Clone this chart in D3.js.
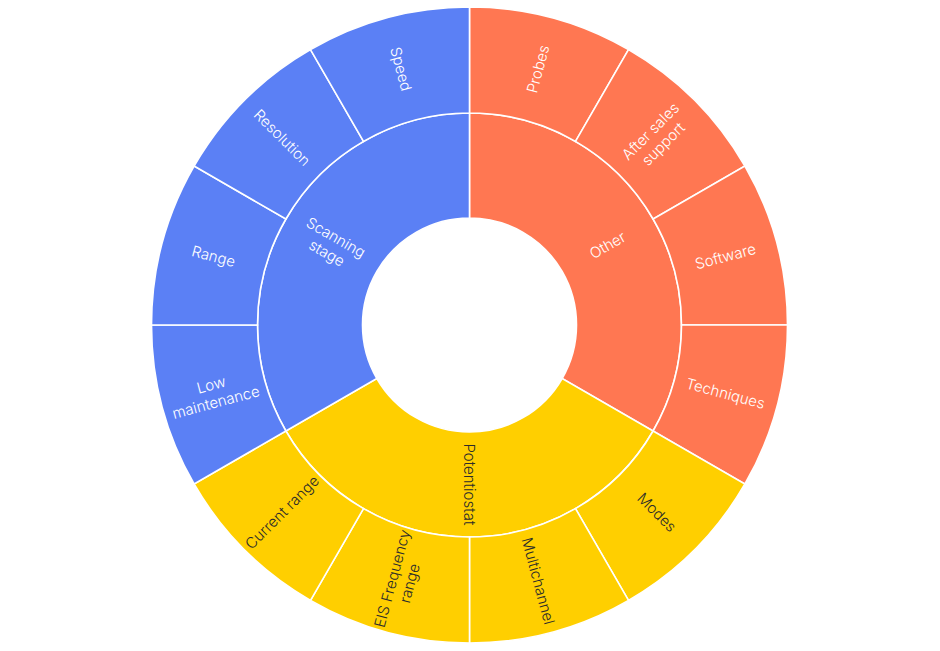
<!DOCTYPE html>
<html><head><meta charset="utf-8">
<script src="https://cdn.jsdelivr.net/npm/d3@7"></script>
<style>html,body{margin:0;padding:0;background:#fff;}svg{display:block;}</style>
</head><body>
<svg id="c" width="940" height="651"></svg>
<script>
const categories = ["Other", "Potentiostat", "Scanning stage"];
const categoryLabels = [["Other"], ["Potentiostat"], ["Scanning", "stage"]];
const categoryColors = ["#FF7752", "#FFCF00", "#5B80F5"];
const textColors = ["#ffffff", "#2b2b2b", "#ffffff"];
const children = [
  ["Probes", "After sales support", "Software", "Techniques"],
  ["Modes", "Multichannel", "EIS Frequency range", "Current range"],
  ["Low maintenance", "Range", "Resolution", "Speed"]
];
const childLabels = [
  [["Probes"], ["After sales", "support"], ["Software"], ["Techniques"]],
  [["Modes"], ["Multichannel"], ["EIS Frequency", "range"], ["Current range"]],
  [["Low", "maintenance"], ["Range"], ["Resolution"], ["Speed"]]
];
const childValues = [
  [1, 1, 1, 1],
  [1, 1, 1, 1],
  [1, 1, 1, 1]
];

const cx = 469.5, cy = 325;
const radii = [0, 107, 212, 318];

const data = {name: "root", children: categories.map((c, i) => ({
  name: c, idx: i, lines: categoryLabels[i],
  children: children[i].map((ch, j) => ({name: ch, idx: i, lines: childLabels[i][j], value: childValues[i][j]}))
}))};

const root = d3.hierarchy(data).sum(d => d.value || 0);
d3.partition().size([2 * Math.PI, 3])(root);

const r = d3.scaleOrdinal().domain([0, 1, 2, 3]).range(radii);

const arc = d3.arc()
  .startAngle(d => d.x0).endAngle(d => d.x1)
  .innerRadius(d => r(d.y0)).outerRadius(d => r(d.y1));

const svg = d3.select("#c");
const g = svg.append("g").attr("transform", `translate(${cx},${cy})`);
const nodes = root.descendants().filter(d => d.depth > 0);

g.selectAll("path").data(nodes).join("path")
  .attr("d", arc)
  .attr("fill", d => categoryColors[d.data.idx])
  .attr("stroke", "#fff").attr("stroke-width", 1.6);

const lh = 18;
const lbl = g.selectAll("text").data(nodes).join("text")
  .attr("transform", d => {
    const a = (d.x0 + d.x1) / 2 * 180 / Math.PI;
    const rad = (r(d.y0) + r(d.y1)) / 2;
    return `rotate(${a - 90}) translate(${rad},0) rotate(${a <= 180 ? 0 : 180})`;
  })
  .attr("text-anchor", "middle")
  .attr("fill", d => textColors[d.data.idx])
  .style("font-family", "Inter, 'Open Sans', sans-serif")
  .style("font-weight", 300)
  .style("font-size", "15px");
lbl.each(function(d) {
  const n = d.data.lines.length;
  d3.select(this).selectAll("tspan").data(d.data.lines).join("tspan")
    .attr("x", 0)
    .attr("y", (t, i) => (i - (n - 1) / 2) * lh)
    .attr("dy", "0.35em")
    .text(t => t);
});
</script>
</body></html>
